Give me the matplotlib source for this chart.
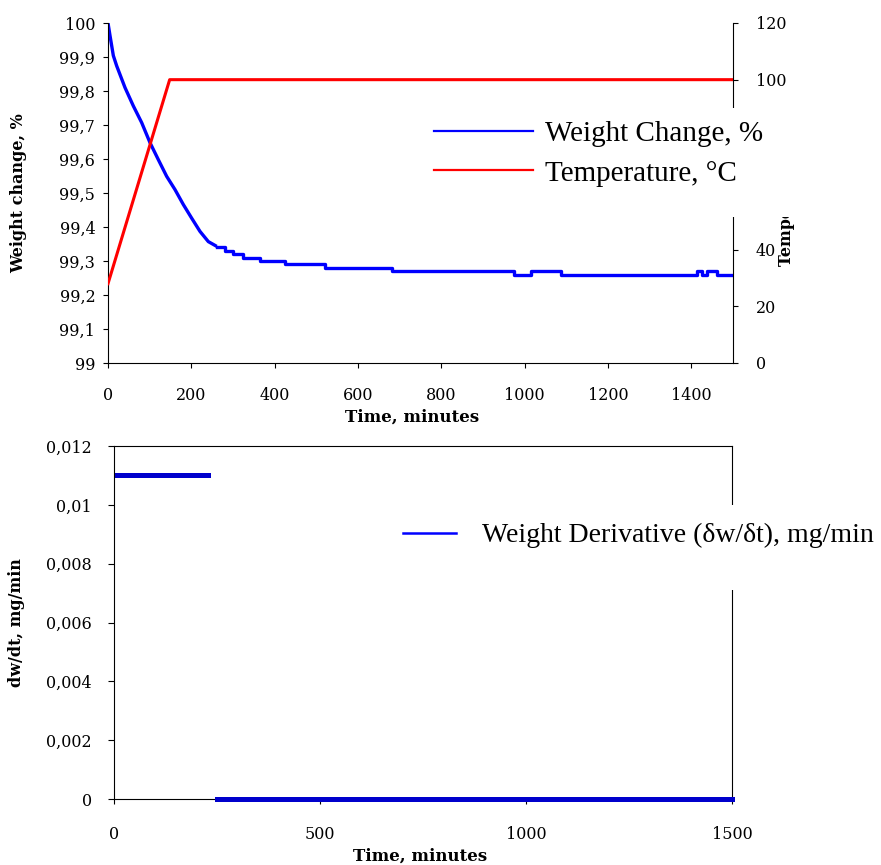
import matplotlib
matplotlib.use('Agg')
import matplotlib.pyplot as plt
from matplotlib.lines import Line2D
from matplotlib.patches import Rectangle

plt.rcParams['font.family'] = 'DejaVu Serif'

# weight change, smooth part (minutes, %)
w_time = [0, 4.8, 12.8, 20.8, 40.8, 60.8, 80.8, 100.8, 120.8, 140.8, 160.8,
          180.8, 200.8, 220.8, 240.8, 261]
w_value = [100, 99.963, 99.904, 99.874, 99.81, 99.756, 99.707, 99.648, 99.598,
           99.549, 99.51, 99.466, 99.426, 99.387, 99.357, 99.343]
# weight change, stepped part (balance resolution 0.01 %)
step_time = [261, 280, 300, 324, 364, 424, 521, 682, 975, 1015, 1088, 1414,
             1426, 1438, 1462, 1500]
step_value = [99.34, 99.33, 99.32, 99.31, 99.30, 99.29, 99.28, 99.27, 99.26,
              99.27, 99.26, 99.27, 99.26, 99.27, 99.26, 99.26]
# temperature program
temp_time = [0, 148, 1500]
temp_value = [28, 100, 100]
# derivative
d_time1 = [0, 228]
d_value1 = [0.011, 0.011]
d_time2 = [250, 1500]
d_value2 = [0, 0]

w_ticks = [99, 99.1, 99.2, 99.3, 99.4, 99.5, 99.6, 99.7, 99.8, 99.9, 100]
w_labels = ['99', '99,1', '99,2', '99,3', '99,4', '99,5', '99,6', '99,7', '99,8', '99,9', '100']
d_ticks = [0, 0.002, 0.004, 0.006, 0.008, 0.01, 0.012]
d_labels = ['0', '0,002', '0,004', '0,006', '0,008', '0,01', '0,012']

blue = '#0000ff'
red = '#ff0000'
dblue = '#0000cc'
tick_fs = 11.5
lab_fs = 11.5

fig = plt.figure(figsize=(8.81, 8.65), dpi=100)

# ---- top panel
ax1 = fig.add_axes([108/881, 1-363/865, 625/881, 340/865])
ax2 = ax1.twinx()
ax1.plot(w_time, w_value, color=blue, lw=2.4, solid_capstyle='butt')
ax1.plot(step_time, step_value, color=blue, lw=2.4, drawstyle='steps-post')
ax2.plot(temp_time, temp_value, color=red, lw=2.2)

ax1.set_xlim(0, 1500)
ax1.set_ylim(99, 100)
ax2.set_ylim(0, 120)
ax1.set_xticks(range(0, 1500, 200))
ax1.set_yticks(w_ticks)
ax1.set_yticklabels(w_labels)
ax2.set_yticks(range(0, 121, 20))
ax1.tick_params(axis='x', direction='out', length=3.6, pad=14, labelsize=tick_fs)
ax1.tick_params(axis='y', direction='out', length=3.6, pad=5.5, labelsize=tick_fs)
ax2.tick_params(axis='y', direction='out', length=3.6, pad=13, labelsize=tick_fs)
for a in (ax1, ax2):
    a.spines['top'].set_visible(False)
ax1.spines['right'].set_visible(False)
ax2.spines['left'].set_visible(False)
ax2.spines['bottom'].set_visible(False)

ax1.set_ylabel('Weight change, %', fontsize=lab_fs, fontweight='bold')
ax1.yaxis.set_label_coords(-0.13, 0.5)
ax1.set_xlabel('Time, minutes', fontsize=12, fontweight='bold')
ax1.xaxis.set_label_coords(0.487, -0.135)
ax2.set_ylabel('Temperature, °C', fontsize=lab_fs, fontweight='bold')
ax2.yaxis.set_label_coords(1.072, 0.5)

# white legend area (covers the right axis like the original)
ax2.add_patch(Rectangle((417/881, 1-217/865), 464/881, 109/865, transform=fig.transFigure,
                        facecolor='white', edgecolor='none', clip_on=False, zorder=4))
h1 = [Line2D([], [], color=blue, lw=1.6), Line2D([], [], color=red, lw=1.6)]
leg1 = ax2.legend(h1, ['Weight Change, %', 'Temperature, °C'],
                  loc='upper left', bbox_to_anchor=(434/881, 1-121/865),
                  bbox_transform=fig.transFigure, borderaxespad=0, borderpad=0,
                  prop={'family': 'Liberation Serif', 'size': 21},
                  handlelength=3.4, handletextpad=0.4, labelspacing=0.44,
                  frameon=False)
leg1.set_zorder(5)

# ---- bottom panel
ax3 = fig.add_axes([114/881, 1-799/865, 618/881, 353/865])
ax3.plot(d_time1, d_value1, color=dblue, lw=3.6, solid_capstyle='projecting')
ax3.plot(d_time2, d_value2, color=dblue, lw=3.6, solid_capstyle='projecting',
         clip_on=False, zorder=3)
ax3.set_xlim(0, 1500)
ax3.set_ylim(0, 0.012)
ax3.set_xticks([0, 500, 1000, 1500])
ax3.set_yticks(d_ticks)
ax3.set_yticklabels(d_labels)
ax3.tick_params(axis='x', direction='out', length=3.6, pad=16, labelsize=tick_fs)
ax3.tick_params(axis='y', direction='out', length=4.3, pad=11.5, labelsize=tick_fs)
ax3.set_ylabel('dw/dt, mg/min', fontsize=lab_fs, fontweight='bold')
ax3.yaxis.set_label_coords(-0.144, 0.5)
ax3.set_xlabel('Time, minutes', fontsize=12, fontweight='bold')
ax3.xaxis.set_label_coords(0.495, -0.139)

ax3.add_patch(Rectangle((377/881, 1-590/865), 504/881, 85/865, transform=fig.transFigure,
                        facecolor='white', edgecolor='none', clip_on=False, zorder=4))
h3 = [Line2D([], [], color=blue, lw=1.8)]
leg3 = ax3.legend(h3, ['Weight Derivative (\u03b4w/\u03b4t), mg/min'],
                  loc='upper left', bbox_to_anchor=(403/881, 1-523/865),
                  bbox_transform=fig.transFigure, borderaxespad=0, borderpad=0,
                  prop={'family': 'Liberation Serif', 'size': 20},
                  handlelength=1.9, handletextpad=0.95, frameon=False)
leg3.set_zorder(5)

fig.savefig('out.png', dpi=100)
